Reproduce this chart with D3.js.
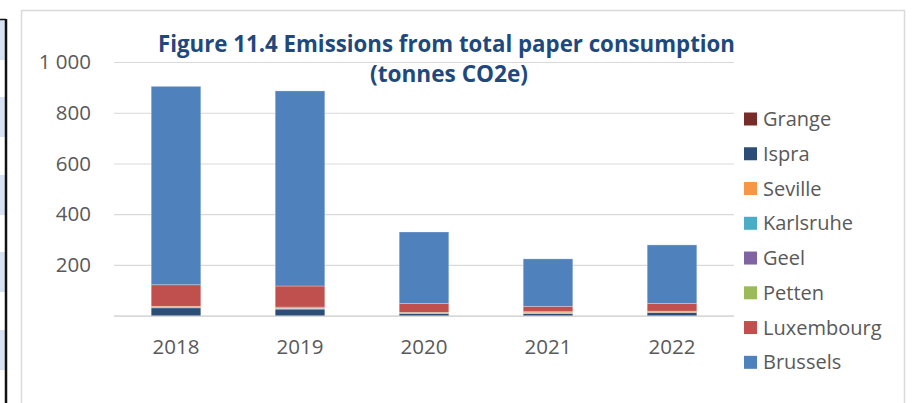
<!DOCTYPE html>
<html>
<head>
<meta charset="utf-8">
<script src="https://cdn.jsdelivr.net/npm/d3@7"></script>
<style>
  html, body { margin: 0; padding: 0; background: #ffffff; }
  svg { display: block; }
  text { font-family: "Open Sans", "Noto Sans", sans-serif; }
</style>
</head>
<body>
<svg id="chart" width="912" height="403"></svg>
<script>
// Emissions from paper consumption by site, tonnes CO2e
const years = ["2018", "2019", "2020", "2021", "2022"];
const grange     = [0, 0, 0, 0, 0];
const ispra      = [31, 26, 9, 9, 13];
const seville    = [6, 3, 0, 5, 5];
const karlsruhe  = [0, 5, 0, 2, 0];
const geel       = [0, 0, 0, 0, 0];
const petten     = [0, 0, 4, 0, 0];
const luxembourg = [85, 83, 35, 21, 30];
const brussels   = [782, 769, 282, 187, 231];

const seriesNames  = ["Grange", "Ispra", "Seville", "Karlsruhe", "Geel", "Petten", "Luxembourg", "Brussels"];
const seriesValues = [grange, ispra, seville, karlsruhe, geel, petten, luxembourg, brussels];
const seriesColors = ["#772c2a", "#2c4d75", "#f79646", "#4bacc6", "#8064a2", "#9bbb59", "#c0504d", "#4f81bd"];
const yTicks = [200, 400, 600, 800, 1000];

const titleLines = ["Figure 11.4 Emissions from total paper consumption", "(tonnes CO2e)"];

const svg = d3.select("#chart");

// Table edge on the left of the page
const stripe = svg.append("g");
const bands = [[19, 60], [97, 137], [175, 215], [252, 292], [330, 370]];
stripe.selectAll("rect").data(bands).join("rect")
  .attr("x", 0).attr("y", d => d[0]).attr("width", 5).attr("height", d => d[1] - d[0])
  .attr("fill", "#d6e2f1");
stripe.append("line").attr("x1", 0).attr("x2", 6).attr("y1", 19.5).attr("y2", 19.5)
  .attr("stroke", "#111").attr("stroke-width", 1.5);
stripe.append("line").attr("x1", 6).attr("x2", 6).attr("y1", 19).attr("y2", 403)
  .attr("stroke", "#111").attr("stroke-width", 2.5);

// Chart frame
svg.append("rect")
  .attr("x", 21.5).attr("y", 10.5).attr("width", 883).attr("height", 420)
  .attr("fill", "#ffffff").attr("stroke", "#d9d9d9").attr("stroke-width", 1.5);

const plot = { left: 114, right: 734, top: 62, bottom: 315.7 };

const x = d3.scaleBand().domain(years)
  .range([plot.left, plot.right]).paddingInner(0.6).paddingOuter(0.3);
const y = d3.scaleLinear().domain([0, 1000]).range([plot.bottom, plot.top]);

const locale = d3.formatLocale({ decimal: ".", thousands: " ", grouping: [3], currency: ["", ""] });
const fmt = locale.format(",d");

// Gridlines
const grid = svg.append("g").attr("transform", `translate(${plot.left},0)`)
  .call(d3.axisLeft(y).tickValues([0].concat(yTicks)).tickSize(-(plot.right - plot.left)).tickFormat(""));
grid.select(".domain").remove();
grid.selectAll(".tick line").attr("stroke", "#d9d9d9").attr("stroke-width", 1.2);
grid.selectAll(".tick").filter(d => d === 0).select("line").attr("stroke-width", 1.8);

// Y labels
const yAxis = svg.append("g").attr("transform", `translate(${plot.left},0)`)
  .call(d3.axisLeft(y).tickValues(yTicks).tickSize(0).tickPadding(23).tickFormat(fmt));
yAxis.select(".domain").remove();
yAxis.selectAll("text").attr("fill", "#595959").style("font-size", "20.5px")
  .style("font-family", "'Open Sans', sans-serif");

// X labels
const xAxis = svg.append("g").attr("transform", `translate(0,${plot.bottom})`)
  .call(d3.axisBottom(x).tickSize(0).tickPadding(24));
xAxis.select(".domain").remove();
xAxis.selectAll("text").attr("fill", "#595959").style("font-size", "20.5px")
  .style("font-family", "'Open Sans', sans-serif");

// Stacked bars
const rows = years.map((yr, i) => {
  const r = { year: yr };
  seriesNames.forEach((n, k) => { r[n] = seriesValues[k][i]; });
  return r;
});
const stacked = d3.stack().keys(seriesNames)(rows);

svg.append("g").selectAll("g").data(stacked).join("g")
  .attr("fill", (d, k) => seriesColors[k])
  .selectAll("rect").data(d => d).join("rect")
  .attr("x", d => x(d.data.year))
  .attr("width", x.bandwidth())
  .attr("y", d => y(d[1]))
  .attr("height", d => Math.max(0, y(d[0]) - y(d[1])))
  .attr("stroke", "#ffffff").attr("stroke-opacity", d => (d[1] - d[0]) > 0 ? 0.35 : 0)
  .attr("stroke-width", 0.8);

// Title
const title = svg.append("g");
title.append("text")
  .attr("x", 446.5).attr("y", 52).attr("text-anchor", "middle")
  .attr("fill", "#1f497d").style("font-weight", 700).style("font-size", "23px")
  .attr("textLength", 577).attr("lengthAdjust", "spacingAndGlyphs")
  .text(titleLines[0]);
title.append("text")
  .attr("x", 449).attr("y", 82).attr("text-anchor", "middle")
  .attr("fill", "#1f497d").style("font-weight", 700).style("font-size", "23px")
  .attr("textLength", 158).attr("lengthAdjust", "spacingAndGlyphs")
  .text(titleLines[1]);

// Legend
const legend = svg.append("g").attr("transform", "translate(744,119)");
const item = legend.selectAll("g").data(seriesNames).join("g")
  .attr("transform", (d, i) => `translate(0,${i * 34.76})`);
item.append("rect").attr("x", 0).attr("y", -6.5).attr("width", 13).attr("height", 13)
  .attr("fill", (d, i) => seriesColors[i]);
item.append("text").attr("x", 19).attr("y", 0).attr("dy", "0.35em")
  .attr("fill", "#595959").style("font-size", "20px").text(d => d);
</script>
</body>
</html>
